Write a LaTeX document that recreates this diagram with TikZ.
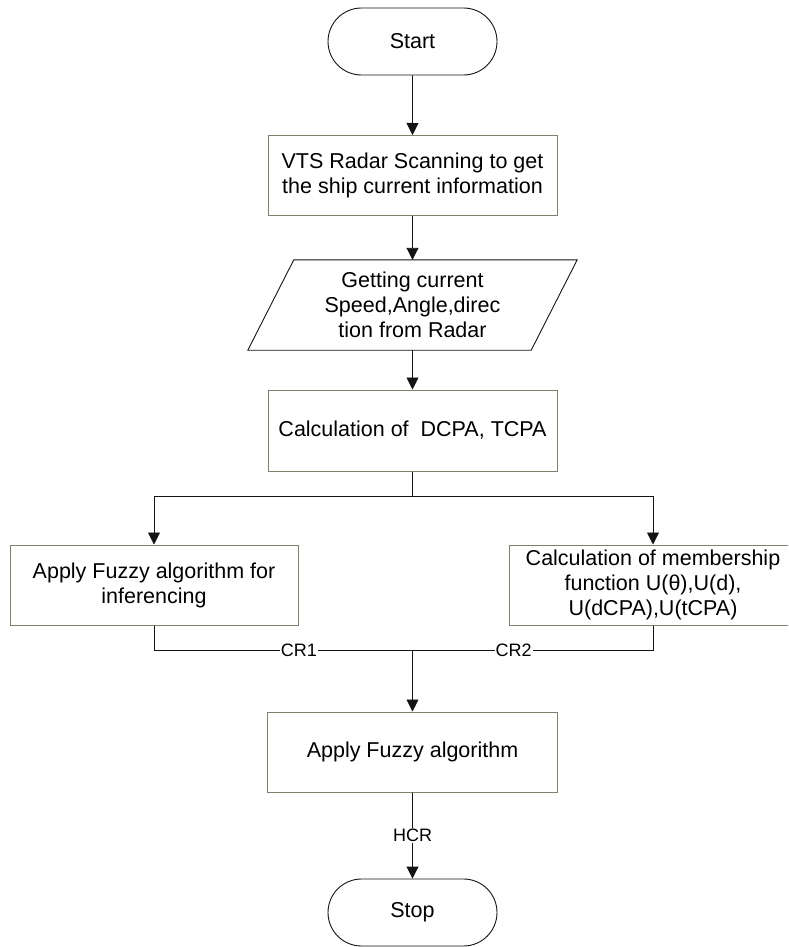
\documentclass[tikz,border=0pt]{standalone}
\usepackage{fontspec}
\setmainfont{Liberation Sans}
\usetikzlibrary{shapes.misc,arrows.meta}
\definecolor{boxborder}{RGB}{128,128,112}
\definecolor{linecol}{RGB}{20,20,20}
\tikzset{
  x=1pt,y=1pt,
  every node/.style={font=\fontsize{21.5}{25}\selectfont},
  procbox/.style={draw=boxborder,line width=1pt,rectangle,minimum width=289pt,minimum height=80pt,align=center,inner sep=0pt},
  termbox/.style={draw=linecol,line width=0.9pt,rounded rectangle,minimum width=169pt,minimum height=67pt,inner sep=0pt},
  conn/.style={draw=linecol,line width=0.9pt},
  arr/.style={conn,-{Triangle[width=12pt,length=12pt]}},
  lbl/.style={fill=white,inner sep=1pt,font=\fontsize{18}{20}\selectfont}
}
\begin{document}
\begin{tikzpicture}
\useasboundingbox (0,0) rectangle (788,-947);
\clip (0,0) rectangle (788,-947);
\node[termbox] (start) at (412.5,-41.5) {Start};
\node[procbox] (vts) at (412.5,-175.5) {VTS Radar Scanning to get\\the ship current information};
\node[minimum width=283pt,minimum height=90pt,inner sep=0pt,align=center] (para) at (412.5,-305) {Getting current\\Speed,Angle,direc\\tion from Radar};
\draw[draw=linecol,line width=0.9pt] ([xshift=23pt]para.north west) -- ([xshift=23pt]para.north east) -- ([xshift=-23pt]para.south east) -- ([xshift=-23pt]para.south west) -- cycle;
\node[procbox,minimum height=81pt] (calc) at (412.5,-430.5) {Calculation of\ \ DCPA, TCPA};
\node[procbox,minimum width=288pt] (left) at (154,-585) {Apply Fuzzy algorithm for\\inferencing};
\node[procbox,minimum width=288pt] (right) at (653,-585) {Calculation of membership\\function U(θ),U(d),\\U(dCPA),U(tCPA)};
\node[procbox,minimum width=290pt] (final) at (412.5,-752) {Apply Fuzzy algorithm};
\node[termbox] (stop) at (412.5,-912.5) {Stop};
\coordinate (split) at (412.5,-496);
\coordinate (merge) at (412.5,-650);
\draw[arr] (start) -- (vts);
\draw[arr] (vts) -- (para);
\draw[arr] (para) -- (calc);
\draw[conn] (calc) -- (split);
\draw[arr] (split) -| (left);
\draw[arr] (split) -| (right);
\draw[conn] (left) |- node[lbl,pos=0.78] {CR1} (merge);
\draw[conn] (right) |- node[lbl,pos=0.79] {CR2} (merge);
\draw[arr] (merge) -- (final);
\draw[arr] (final) -- node[lbl,pos=0.5] {HCR} (stop);
\end{tikzpicture}
\end{document}
